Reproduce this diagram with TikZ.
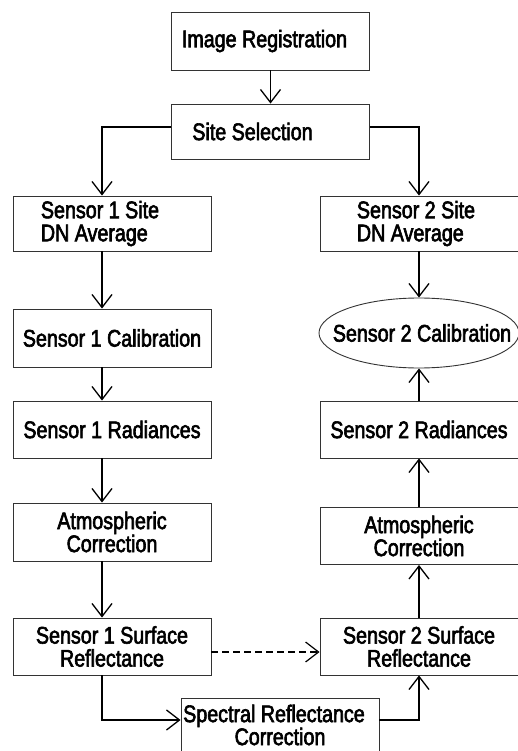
\documentclass[tikz,border=0pt]{standalone}
\usepackage{fontspec}
\setmainfont{Liberation Sans}[FakeStretch=0.82,FakeBold=2.5]
\usetikzlibrary{arrows.meta,shapes.geometric}

\begin{document}
\begin{tikzpicture}[x=1pt,y=-1pt]
                \clip (0,0) rectangle (518,751);
                \coordinate (lane1) at (102,0);

                \begin{scope}[every node/.style = {draw=black!80, line width=0.9pt, minimum width=198pt,
                                minimum height=57pt, align=center, inner sep=0pt,
                                font=\fontsize{24}{23}\selectfont}]
                    \node (reg)   at (270.5, 41)   [minimum height=58pt] {Image Registration\hspace*{12pt}};
                    \node (site)  at (270.5,131.5) [minimum height=55pt] {Site Selection\hspace*{36pt}};
                    \node (s1dn)  at (112,223.5)   [minimum height=55pt, align=left] {Sensor 1 Site\hspace*{24pt}\\DN Average};
                    \node (s2dn)  at (419,223.5)   [minimum height=55pt, align=left] {Sensor 2 Site\hspace*{6pt}\\DN Average};
                    \node (s1cal) at (112,338)     [minimum height=58pt] {Sensor 1 Calibration};
                    \node (s2cal) at (419,333)     [ellipse, minimum width=200pt, minimum height=70pt]
                                                   {\makebox[120pt]{\hspace*{6pt}Sensor 2 Calibration}};
                    \node (s1rad) at (112,429.5)   {Sensor 1 Radiances};
                    \node (s2rad) at (419,429.5)   {Sensor 2 Radiances};
                    \node (s1atm) at (112,532)     [minimum height=58pt] {Atmospheric\\Correction};
                    \node (s2atm) at (419,536)     {Atmospheric\\Correction};
                    \node (s1sur) at (112,646.5)   {Sensor 1 Surface\\Reflectance};
                    \node (s2sur) at (419,646.5)   {Sensor 2 Surface\\Reflectance};
                    \node (spec)  at (280,725)     [minimum height=54pt] {Spectral Reflectance\hspace*{12pt}\\Correction};
                \end{scope}

                \begin{scope}[>={Straight Barb[length=13pt,width=20pt]}, line width=1.3pt]
                    \path [->] (reg) edge (site);
                    \draw [->] ([yshift=4.5pt]site.west) -| (s1dn.north -| lane1);
                    \draw [->] ([yshift=4.5pt]site.east) -| (s2dn.north);

                    % left column, top to bottom
                    \path [->] (s1dn.south -| lane1)  edge (s1cal.north -| lane1);
                    \path [->] (s1cal.south -| lane1) edge (s1rad.north -| lane1);
                    \path [->] (s1rad.south -| lane1) edge (s1atm.north -| lane1);
                    \path [->] (s1atm.south -| lane1) edge (s1sur.north -| lane1);

                    % right column, bottom to top
                    \path [->] (s2dn)  edge (s2cal);
                    \path [->] (s2rad) edge (s2cal);
                    \path [->] (s2atm) edge (s2rad);
                    \path [->] (s2sur) edge (s2atm);

                    \path [->, dash pattern=on 7pt off 4pt, line width=1.2pt] ([yshift=-5.5pt]s1sur.east) edge ([yshift=-5.5pt]s2sur.west);
                    \draw [->] (s1sur.south -| lane1) |- ([yshift=5pt]spec.west);
                    \draw [->] ([yshift=5pt]spec.east) -| (s2sur.south);
                \end{scope}
            \end{tikzpicture}
\end{document}
